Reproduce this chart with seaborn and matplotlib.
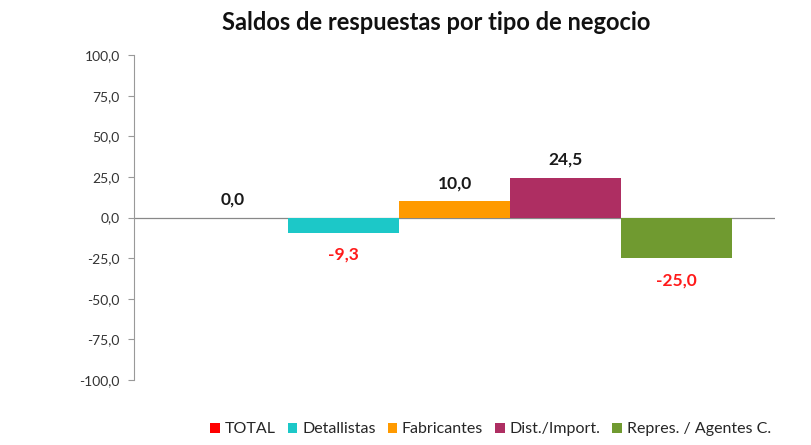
import pandas as pd
import matplotlib.pyplot as plt
import seaborn as sns
from matplotlib.ticker import FuncFormatter

# Data
series = ['TOTAL', 'Detallistas', 'Fabricantes', 'Dist./Import.', 'Repres. / Agentes C.']
values = [0.0, -9.3, 10.0, 24.5, -25.0]
colors = ['#FF0000', '#1CC8C8', '#FF9A00', '#AE2E62', '#709A30']
yticks = [-100, -75, -50, -25, 0, 25, 50, 75, 100]

df = pd.DataFrame({'grupo': ['saldo'] * len(series), 'serie': series, 'valor': values})

sns.set_style('white')
plt.rcParams['font.family'] = ['Lato', 'DejaVu Sans']

fig = plt.figure(figsize=(8.11, 4.45), dpi=100)
ax = fig.add_axes([0.165, 0.146, 0.791, 0.73])

sns.barplot(data=df, x='grupo', y='valor', hue='serie', hue_order=series,
            palette=colors, width=0.866, saturation=1, linewidth=0,
            ax=ax, legend=True)

ax.set_ylim(-100, 100)
ax.set_yticks(yticks)
ax.yaxis.set_major_formatter(FuncFormatter(lambda v, p: f'{v:.1f}'.replace('.', ',')))
ax.tick_params(axis='y', labelsize=10, length=4, left=True, width=0.8, pad=6,
               colors='#999999', labelcolor='#333333')
ax.set_xticks([])
ax.set_xlabel('')
ax.set_ylabel('')
for s in ['top', 'right', 'bottom']:
    ax.spines[s].set_visible(False)
ax.spines['left'].set_color('#999999')
ax.spines['left'].set_linewidth(0.8)
ax.axhline(0, color='#888888', lw=0.9, zorder=0)

# Data labels
for bar, v in zip(ax.patches, values):
    xc = bar.get_x() + bar.get_width() / 2
    txt = f'{v:.1f}'.replace('.', ',')
    if v < 0:
        ax.annotate(txt, (xc, v), xytext=(0, -16), textcoords='offset points',
                    ha='center', va='center', fontsize=12.5, fontweight='bold',
                    color='#FF1A1A')
    else:
        ax.annotate(txt, (xc, v), xytext=(0, 13), textcoords='offset points',
                    ha='center', va='center', fontsize=12.5, fontweight='bold',
                    color='#1a1a1a')

fig.suptitle('Saldos de respuestas por tipo de negocio', x=0.538, y=0.975,
             fontsize=17, fontweight='bold', color='#111111')

handles, labels = ax.get_legend_handles_labels()
ax.get_legend().remove()
fig.legend(handles, labels, loc='center', bbox_to_anchor=(0.605, 0.035), ncol=5,
           frameon=False, fontsize=11.5, handlelength=0.6, handleheight=0.6,
           handletextpad=0.3, columnspacing=0.75)

plt.savefig('out.png', dpi=100)
